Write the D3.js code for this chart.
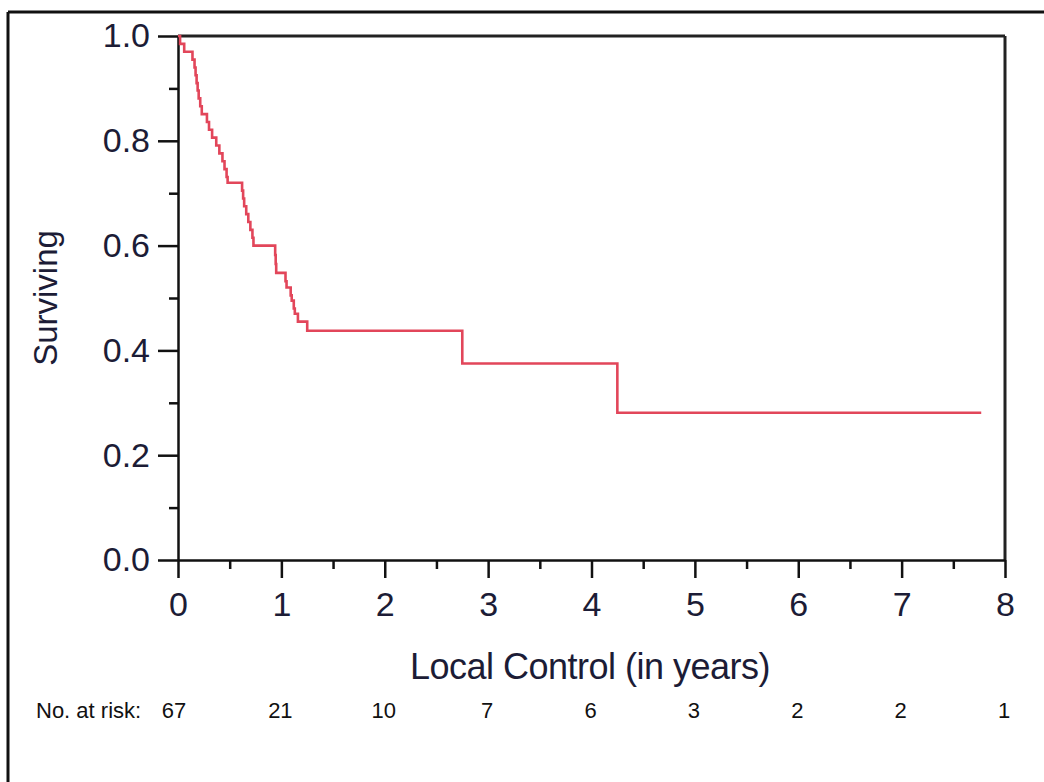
<!DOCTYPE html>
<html>
<head>
<meta charset="UTF-8">
<title>Local Control</title>
<script src="https://d3js.org/d3.v7.min.js"></script>
<style>
  body { margin: 0; background: #fff; }
  svg { display: block; }
  .ax text { font-family: "Liberation Sans", Arial, sans-serif; fill: #1c1c36; }
  .ax path, .ax line { stroke: #111; stroke-width: 2.5; }
</style>
</head>
<body>
<div id="chart"></div>
<script>
// step times (years) and survival after each step
var stepTimes = [0, 0.02, 0.06, 0.14, 0.16, 0.17, 0.18, 0.19, 0.20, 0.215, 0.23,
  0.28, 0.30, 0.33, 0.37, 0.40, 0.43, 0.45, 0.47, 0.48,
  0.62, 0.63, 0.64, 0.66, 0.68, 0.70, 0.72, 0.73,
  0.94, 0.945, 0.95, 1.04, 1.05, 1.09, 1.10, 1.12, 1.13, 1.16, 1.25,
  2.75, 4.25, 7.77];
var stepSurv = [1.0, 0.985, 0.970, 0.955, 0.940, 0.925, 0.910, 0.896, 0.881, 0.866, 0.851,
  0.836, 0.821, 0.806, 0.791, 0.776, 0.761, 0.746, 0.731, 0.72,
  0.705, 0.690, 0.675, 0.660, 0.645, 0.630, 0.615, 0.600,
  0.582, 0.565, 0.548, 0.532, 0.520, 0.505, 0.495, 0.480, 0.470, 0.455, 0.4375,
  0.375, 0.281, 0.281];
var xTicks = [0, 1, 2, 3, 4, 5, 6, 7, 8];
var yTicks = [0, 0.2, 0.4, 0.6, 0.8, 1.0];
var riskTimes = [0, 1, 2, 3, 4, 5, 6, 7, 8];
var riskCounts = [67, 21, 10, 7, 6, 3, 2, 2, 1];

var W = 1044, H = 782;
var svg = d3.select("#chart").append("svg").attr("width", W).attr("height", H);

// outer border (top and left)
svg.append("line").attr("x1", 8).attr("y1", 12).attr("x2", W).attr("y2", 12)
  .attr("stroke", "#111").attr("stroke-width", 3);
svg.append("line").attr("x1", 8).attr("y1", 12).attr("x2", 8).attr("y2", H)
  .attr("stroke", "#111").attr("stroke-width", 3);

var x = d3.scaleLinear().domain([0, 8]).range([178, 1005]);
var y = d3.scaleLinear().domain([0, 1]).range([560, 36]);

// frame top/right
svg.append("line").attr("x1", x(0)).attr("y1", y(1)).attr("x2", x(8)).attr("y2", y(1))
  .attr("stroke", "#222").attr("stroke-width", 3);
svg.append("line").attr("x1", x(8)).attr("y1", y(1)).attr("x2", x(8)).attr("y2", y(0))
  .attr("stroke", "#222").attr("stroke-width", 3);

// minor ticks
svg.append("g").attr("class", "ax").attr("transform", "translate(0," + y(0) + ")")
  .call(d3.axisBottom(x).tickValues([0.5, 1.5, 2.5, 3.5, 4.5, 5.5, 6.5, 7.5]).tickSize(9).tickFormat(""))
  .select(".domain").remove();
svg.append("g").attr("class", "ax").attr("transform", "translate(" + x(0) + ",0)")
  .call(d3.axisLeft(y).tickValues([0.1, 0.3, 0.5, 0.7, 0.9]).tickSize(9).tickFormat(""))
  .select(".domain").remove();

// major axes
var gx = svg.append("g").attr("class", "ax").attr("transform", "translate(0," + y(0) + ")")
  .call(d3.axisBottom(x).tickValues(xTicks).tickSize(18).tickSizeOuter(0).tickPadding(14).tickFormat(d3.format("d")));
gx.selectAll("text").style("font-size", "34px");

var gy = svg.append("g").attr("class", "ax").attr("transform", "translate(" + x(0) + ",0)")
  .call(d3.axisLeft(y).tickValues(yTicks).tickSize(20).tickSizeOuter(0).tickPadding(8).tickFormat(d3.format(".1f")));
gy.selectAll("text").style("font-size", "34px");

// axis titles
svg.append("text")
  .attr("x", 590).attr("y", 679)
  .attr("text-anchor", "middle")
  .style("font-family", "Liberation Sans, Arial, sans-serif")
  .style("font-size", "36px")
  .style("letter-spacing", "-0.5px")
  .style("fill", "#1c1c36")
  .text("Local Control (in years)");

svg.append("text")
  .attr("transform", "translate(57,298) rotate(-90)")
  .attr("text-anchor", "middle")
  .style("font-family", "Liberation Sans, Arial, sans-serif")
  .style("font-size", "33px")
  .style("fill", "#1c1c36")
  .text("Surviving");

// survival curve
var pts = stepTimes.map(function(t, i) { return [t, stepSurv[i]]; });
var line = d3.line()
  .x(function(d) { return x(d[0]); })
  .y(function(d) { return y(d[1]); })
  .curve(d3.curveStepAfter);
svg.append("path").datum(pts)
  .attr("d", line)
  .attr("fill", "none")
  .attr("stroke", "#e2465a")
  .attr("stroke-width", 2.6);

// number at risk
svg.append("text")
  .attr("x", 36).attr("y", 718)
  .style("font-family", "Liberation Sans, Arial, sans-serif")
  .style("font-size", "22px")
  .style("fill", "#111")
  .text("No. at risk:");

svg.selectAll(".risk").data(riskCounts).enter()
  .append("text")
  .attr("class", "risk")
  .attr("x", function(d, i) { return x(riskTimes[i]) - (i === 0 ? 4 : 1); })
  .attr("y", 718)
  .attr("text-anchor", "middle")
  .style("font-family", "Liberation Sans, Arial, sans-serif")
  .style("font-size", "22px")
  .style("fill", "#111")
  .text(function(d) { return d; });
</script>
</body>
</html>
